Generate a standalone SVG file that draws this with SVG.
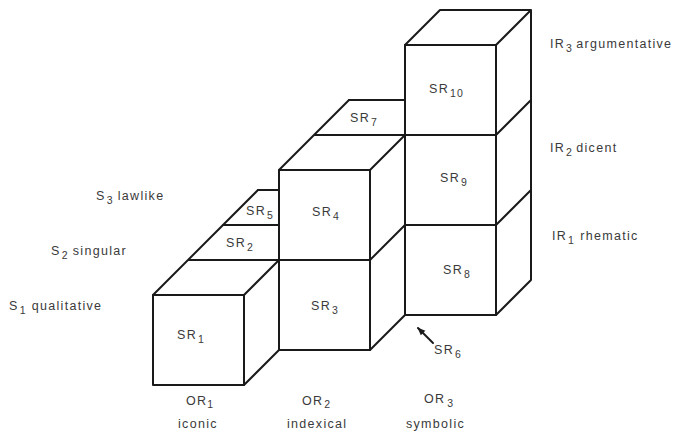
<svg xmlns="http://www.w3.org/2000/svg" width="678" height="434" viewBox="0 0 678 434">
<defs>
<style>
.e{fill:none;stroke:#1a1a1a;stroke-width:2;stroke-linejoin:round;stroke-linecap:round}
text{font-family:"Liberation Sans",Arial,sans-serif;font-size:12.5px;fill:#3a3a3a;letter-spacing:1.3px}
.s{font-size:10.5px}
</style>
<marker id="ah" viewBox="0 0 10 10" refX="9" refY="5" markerWidth="8" markerHeight="8" orient="auto" markerUnits="userSpaceOnUse">
<path d="M0,1 L10,5 L0,9 z" fill="#1a1a1a"/>
</marker>
</defs>
<rect width="678" height="434" fill="#fff"/>
<g id="connectors">
<line class="e" x1="433" y1="343" x2="418" y2="328" marker-end="url(#ah)" stroke-width="1.2"/>
</g>
<g id="SR1">
<rect class="e" x="153" y="295" width="91" height="90"/>
<path class="e" d="M153,295 L258,190 M188,260 L279,260 M244,295 L279,260 M244,385 L279,350"/>
<text x="177" y="339">SR<tspan class="s" dx="1" dy="4">1</tspan></text>
</g>
<g id="SR2">
<path class="e" d="M223,225 L279,225"/>
<text x="226" y="247">SR<tspan class="s" dx="1" dy="4">2</tspan></text>
</g>
<g id="SR5">
<path class="e" d="M258,190 L279,190"/>
<text x="246" y="215">SR<tspan class="s" dx="1" dy="4">5</tspan></text>
</g>
<g id="SR3">
<rect class="e" x="279" y="260" width="91" height="90"/>
<path class="e" d="M370,260 L405,225 M370,350 L405,315"/>
<text x="311" y="310">SR<tspan class="s" dx="1" dy="4">3</tspan></text>
</g>
<g id="SR4">
<rect class="e" x="279" y="170" width="91" height="90"/>
<path class="e" d="M279,170 L349,100 M370,170 L405,135 M314,135 L405,135"/>
<text x="312" y="216">SR<tspan class="s" dx="1" dy="4">4</tspan></text>
</g>
<g id="SR7">
<path class="e" d="M349,100 L405,100"/>
<text x="350" y="122">SR<tspan class="s" dx="1" dy="4">7</tspan></text>
</g>
<g id="SR8">
<rect class="e" x="405" y="225" width="91" height="90"/>
<path class="e" d="M496,315 L531,280 M531,280 L531,190"/>
<text x="443" y="274">SR<tspan class="s" dx="1" dy="4">8</tspan></text>
</g>
<g id="SR9">
<rect class="e" x="405" y="135" width="91" height="90"/>
<path class="e" d="M496,225 L531,190 M531,190 L531,100"/>
<text x="440" y="182">SR<tspan class="s" dx="1" dy="4">9</tspan></text>
</g>
<g id="SR10">
<rect class="e" x="405" y="45" width="91" height="90"/>
<path class="e" d="M405,45 L440,10 L531,10 L531,100 M496,45 L531,10 M496,135 L531,100"/>
<text x="429" y="93">SR<tspan class="s" dx="1" dy="4">10</tspan></text>
</g>
<g id="SR6">
<text x="434" y="354">SR<tspan class="s" dx="1" dy="4">6</tspan></text>
</g>
<g id="labels">
<text x="96" y="200">S<tspan class="s" dx="1" dy="4">3</tspan><tspan dx="4" dy="-4">lawlike</tspan></text>
<text x="51" y="255">S<tspan class="s" dx="1" dy="4">2</tspan><tspan dx="4" dy="-4">singular</tspan></text>
<text x="9" y="310">S<tspan class="s" dx="1" dy="4">1</tspan><tspan dx="5" dy="-4">qualitative</tspan></text>
<text x="550" y="48">IR<tspan class="s" dx="1" dy="4">3</tspan><tspan dx="3" dy="-4">argumentative</tspan></text>
<text x="550" y="152">IR<tspan class="s" dx="1" dy="4">2</tspan><tspan dx="3" dy="-4">dicent</tspan></text>
<text x="552" y="240">IR<tspan class="s" dx="1" dy="4">1</tspan><tspan dx="5" dy="-4">rhematic</tspan></text>
<text x="186" y="405">OR<tspan class="s" dx="0" dy="3">1</tspan></text>
<text x="178" y="428">iconic</text>
<text x="302" y="405">OR<tspan class="s" dx="1" dy="3">2</tspan></text>
<text x="287" y="428">indexical</text>
<text x="424" y="403">OR<tspan class="s" dx="2" dy="4">3</tspan></text>
<text x="406" y="428">symbolic</text>
</g>
</svg>
